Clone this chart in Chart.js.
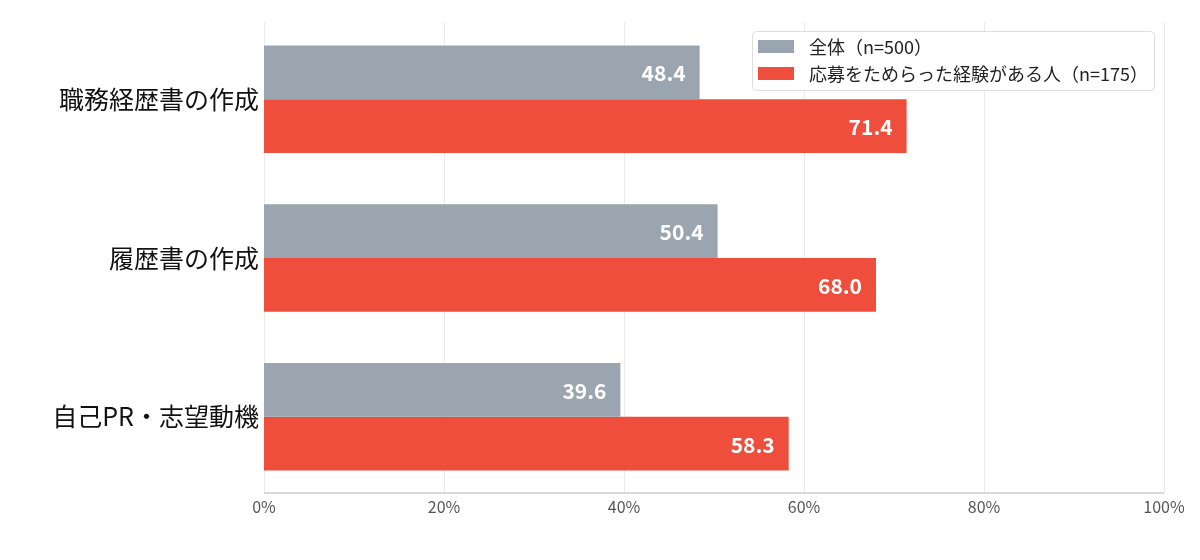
<!DOCTYPE html>
<html><head><meta charset="utf-8">
<script src="https://cdn.jsdelivr.net/npm/chart.js@4.4.1/dist/chart.umd.min.js"></script>
<style>html,body{margin:0;padding:0;background:#fff}#wrap{width:1200px;height:560px;position:relative}</style>
</head><body><div id="wrap"><canvas id="c" width="1200" height="560"></canvas></div>
<script>
const categories = ['職務経歴書の作成', '履歴書の作成', '自己PR・志望動機'];
const seriesAll = [48.4, 50.4, 39.6];
const seriesHesitant = [71.4, 68.0, 58.3];
const seriesLabels = ['全体（n=500）', '応募をためらった経験がある人（n=175）'];
const xTicks = [0, 20, 40, 60, 80, 100];
const FONT = '"Noto Sans CJK JP", "Noto Sans", sans-serif';

const gridPlugin = {
  id: 'gridPlugin',
  beforeDatasetsDraw(chart) {
    const ctx = chart.ctx, x = chart.scales.x, a = chart.chartArea;
    ctx.save();
    ctx.strokeStyle = '#ebebeb'; ctx.lineWidth = 1;
    xTicks.forEach(v => {
      const px = Math.round(x.getPixelForValue(v)) + 0.5;
      ctx.beginPath(); ctx.moveTo(px, 22); ctx.lineTo(px, 493); ctx.stroke();
    });
    ctx.strokeStyle = '#cccccc'; ctx.lineWidth = 1.5;
    ctx.beginPath(); ctx.moveTo(a.left, 493); ctx.lineTo(a.right, 493); ctx.stroke();
    ctx.restore();
  }
};

const labelPlugin = {
  id: 'labelPlugin',
  afterDatasetsDraw(chart) {
    const ctx = chart.ctx;
    ctx.save();
    ctx.font = 'bold 21px ' + FONT;
    ctx.fillStyle = '#ffffff';
    ctx.textAlign = 'right'; ctx.textBaseline = 'middle';
    chart.data.datasets.forEach((ds, i) => {
      chart.getDatasetMeta(i).data.forEach((bar, j) => {
        ctx.fillText(ds.data[j].toFixed(1), bar.x - 14, bar.y + 1);
      });
    });
    ctx.restore();
  }
};

const legendPlugin = {
  id: 'legendPlugin',
  afterDraw(chart) {
    const ctx = chart.ctx;
    ctx.save();
    const bx = 752.5, by = 31.5, bw = 402, bh = 59, r = 4;
    ctx.beginPath();
    ctx.moveTo(bx + r, by); ctx.lineTo(bx + bw - r, by); ctx.arcTo(bx + bw, by, bx + bw, by + r, r);
    ctx.lineTo(bx + bw, by + bh - r); ctx.arcTo(bx + bw, by + bh, bx + bw - r, by + bh, r);
    ctx.lineTo(bx + r, by + bh); ctx.arcTo(bx, by + bh, bx, by + bh - r, r);
    ctx.lineTo(bx, by + r); ctx.arcTo(bx, by, bx + r, by, r);
    ctx.closePath();
    ctx.fillStyle = 'rgba(255,255,255,0.95)'; ctx.fill();
    ctx.strokeStyle = '#dddddd'; ctx.lineWidth = 1; ctx.stroke();
    const rows = [46.5, 73.5];
    chart.data.datasets.forEach((ds, i) => {
      ctx.fillStyle = ds.backgroundColor;
      ctx.fillRect(758, rows[i] - 6.5, 36, 13);
      ctx.fillStyle = '#222222';
      ctx.font = '18px ' + FONT;
      ctx.textAlign = 'left'; ctx.textBaseline = 'middle';
      ctx.fillText(ds.label, 809, rows[i] + 0.5);
    });
    ctx.restore();
  }
};

new Chart(document.getElementById('c'), {
  type: 'bar',
  data: {
    labels: categories,
    datasets: [
      { label: seriesLabels[0], data: seriesAll, backgroundColor: '#9BA5AF' },
      { label: seriesLabels[1], data: seriesHesitant, backgroundColor: '#EF4E3D' }
    ]
  },
  options: {
    indexAxis: 'y',
    responsive: false,
    animation: false,
    devicePixelRatio: 1,
    layout: { padding: { top: 18, right: 36, bottom: 0, left: 0 } },
    datasets: { bar: { categoryPercentage: 0.678, barPercentage: 1.0 } },
    plugins: { legend: { display: false }, tooltip: { enabled: false } },
    scales: {
      x: {
        min: 0, max: 100,
        afterBuildTicks(s) { s.ticks = xTicks.map(v => ({ value: v })); },
        afterFit(s) { s.height = 64; },
        grid: { display: false, drawTicks: false },
        border: { display: false },
        ticks: { padding: 1, color: '#555555', font: { family: FONT, size: 16 }, callback: v => v + '%' }
      },
      y: {
        afterFit(s) { s.width = 264; },
        grid: { display: false, drawTicks: false },
        border: { display: false },
        ticks: { padding: 5, color: '#111111', font: { family: FONT, size: 25 } }
      }
    }
  },
  plugins: [gridPlugin, labelPlugin, legendPlugin]
});
</script></body></html>
